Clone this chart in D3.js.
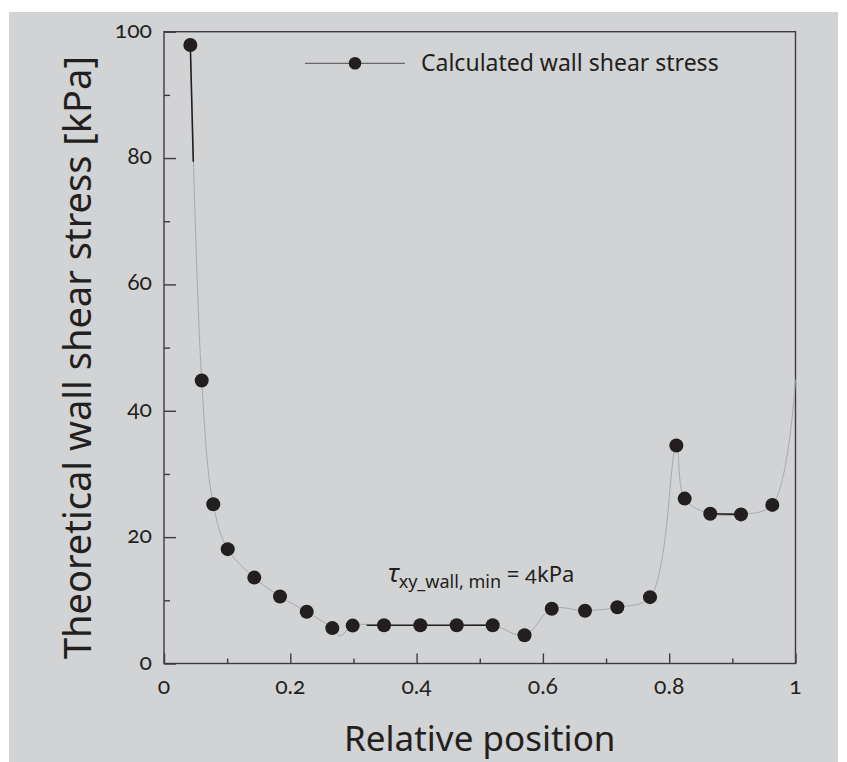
<!DOCTYPE html>
<html>
<head>
<meta charset="utf-8">
<script src="https://cdn.jsdelivr.net/npm/d3@7"></script>
<style>
	body { margin: 0; background: #fff; }
	text { font-family: "Noto Sans", sans-serif; fill: #231f20; }
	.num { font-family: Lato, "Noto Sans", sans-serif; font-variant-numeric: oldstyle-nums; font-feature-settings: "onum" 1; }
</style>
</head>
<body>
<svg width="847" height="762"></svg>
<script>
// Calculated points (markers)
var posX = [0.0417, 0.0597, 0.078, 0.1009, 0.143, 0.1837, 0.226, 0.2665, 0.2988, 0.3484,
	0.4059, 0.4635, 0.5205, 0.5709, 0.614, 0.6667, 0.7179, 0.7696, 0.8113, 0.8245,
	0.865, 0.9137, 0.9633];
var stress = [97.9, 44.8, 25.2, 18.1, 13.6, 10.6, 8.2, 5.6, 6.0, 6.05,
	6.05, 6.05, 6.05, 4.46, 8.67, 8.36, 8.9, 10.5, 34.5, 26.1,
	23.7, 23.6, 25.1];

// Thin grey fitted curve
var curveX = [0.0417, 0.0597, 0.078, 0.1009, 0.143, 0.1837, 0.226, 0.2665, 0.279, 0.2988,
	0.3484, 0.4059, 0.4635, 0.5205, 0.5709, 0.614, 0.6667, 0.7179, 0.7696, 0.8113,
	0.8245, 0.865, 0.9137, 0.9633, 1.0];
var curveY = [97.9, 44.8, 25.2, 18.1, 13.6, 10.6, 8.2, 5.6, 4.4, 6.0,
	6.05, 6.05, 6.05, 6.05, 4.46, 8.67, 8.36, 8.9, 10.5, 34.5,
	26.1, 23.7, 23.6, 25.1, 45];

// Dark straight pieces of the line
var segX0 = [0.0417, 0.321, 0.865];
var segY0 = [97.9, 6.05, 23.7];
var segX1 = [0.0464, 0.5205, 0.9137];
var segY1 = [79.4, 6.05, 23.6];

// Ticks
var xMajor = [0, 0.2, 0.4, 0.6, 0.8, 1];
var xMinor = [0.1, 0.3, 0.5, 0.7, 0.9];
var xLabels = ["0", "0.2", "0.4", "0.6", "0.8", "1"];
var yMajor = [0, 20, 40, 60, 80, 100];
var yMinor = [10, 30, 50, 70, 90];

// The svg
var svg = d3.select("svg"),
	width = +svg.attr("width"),
	height = +svg.attr("height");

var margin = { left: 164, right: 795.5, top: 31.7, bottom: 663.5 };
var ink = "#231f20";

// grey panel
svg.append("rect")
	.attr("x", 9).attr("y", 12)
	.attr("width", 829).attr("height", 750)
	.attr("fill", "#d1d3d4");

var x = d3.scaleLinear().domain([0, 1]).range([margin.left, margin.right]);
var y = d3.scaleLinear().domain([0, 100]).range([margin.bottom, margin.top]);

// frame
svg.append("rect")
	.attr("x", x(0)).attr("y", y(100))
	.attr("width", x(1) - x(0)).attr("height", y(0) - y(100))
	.attr("fill", "none")
	.attr("stroke", "#3c3c3e")
	.attr("stroke-width", 1.4);

// x axis (ticks pointing inward)
var xAxis = svg.append("g").attr("transform", "translate(0," + y(0) + ")");
xAxis.call(d3.axisTop(x).tickValues(xMajor).tickSize(10).tickFormat(""))
	.call(g => g.select(".domain").remove());
xAxis.append("g").call(d3.axisTop(x).tickValues(xMinor).tickSize(5).tickFormat(""))
	.call(g => g.select(".domain").remove());
xAxis.selectAll("line").attr("stroke", "#3c3c3e").attr("stroke-width", 1.4);
xAxis.selectAll(".lbl")
	.data(xMajor)
	.enter()
	.append("text")
	.attr("class", "num")
	.attr("x", d => x(d))
	.attr("y", 30)
	.attr("text-anchor", "middle")
	.style("font-size", "23px")
	.text((d, i) => xLabels[i]);

// y axis
var yAxis = svg.append("g").attr("transform", "translate(" + x(0) + ",0)");
yAxis.call(d3.axisRight(y).tickValues(yMajor).tickSize(12).tickFormat(""))
	.call(g => g.select(".domain").remove());
yAxis.append("g").call(d3.axisRight(y).tickValues(yMinor).tickSize(6).tickFormat(""))
	.call(g => g.select(".domain").remove());
yAxis.selectAll("line").attr("stroke", "#3c3c3e").attr("stroke-width", 1.4);
yAxis.selectAll(".lbl")
	.data(yMajor)
	.enter()
	.append("text")
	.attr("class", "num")
	.attr("x", -12)
	.attr("y", d => y(d) + 6)
	.attr("text-anchor", "end")
	.style("font-size", "23px")
	.text(d => d);

// axis titles
svg.append("text")
	.attr("x", (x(0) + x(1)) / 2)
	.attr("y", 751)
	.attr("text-anchor", "middle")
	.style("font-size", "35px")
	.text("Relative position");

svg.append("text")
	.attr("transform", "translate(91," + (y(50) + 10) + ") rotate(-90)")
	.attr("text-anchor", "middle")
	.style("font-size", "38px")
	.text("Theoretical wall shear stress [kPa]");

// grey curve
var curvePts = curveX.map((d, i) => [d, curveY[i]]);
svg.append("path")
	.datum(curvePts)
	.attr("d", d3.line().x(d => x(d[0])).y(d => y(d[1])).curve(d3.curveCatmullRom.alpha(0.5)))
	.attr("fill", "none")
	.attr("stroke", "#a7a9ac")
	.attr("stroke-width", 1);

// dark pieces
svg.append("g")
	.selectAll("line")
	.data(segX0)
	.enter()
	.append("line")
	.attr("x1", (d, i) => x(segX0[i]))
	.attr("y1", (d, i) => y(segY0[i]))
	.attr("x2", (d, i) => x(segX1[i]))
	.attr("y2", (d, i) => y(segY1[i]))
	.attr("stroke", ink)
	.attr("stroke-width", 1.6);

// markers
svg.append("g")
	.selectAll("circle")
	.data(posX)
	.enter()
	.append("circle")
	.attr("cx", d => x(d))
	.attr("cy", (d, i) => y(stress[i]))
	.attr("r", 7)
	.attr("fill", ink);

// legend
var legend = svg.append("g");
legend.append("line")
	.attr("x1", 305).attr("x2", 405)
	.attr("y1", 63.3).attr("y2", 63.3)
	.attr("stroke", "#4d4d4f")
	.attr("stroke-width", 1);
legend.append("circle")
	.attr("cx", 355).attr("cy", 63.3).attr("r", 6.3)
	.attr("fill", ink);
legend.append("text")
	.attr("x", 421).attr("y", 71)
	.style("font-size", "23px")
	.text("Calculated wall shear stress");

// annotation for the minimum
var note = svg.append("text")
	.attr("x", 388).attr("y", 582)
	.style("font-size", "22px");
note.append("tspan")
	.style("font-style", "italic")
	.style("font-size", "26px")
	.text("τ");
note.append("tspan")
	.attr("dy", 6)
	.style("font-size", "18px")
	.text("xy_wall, min");
note.append("tspan")
	.attr("dy", -6)
	.text(" = ");
note.append("tspan")
	.attr("class", "num")
	.text("4");
note.append("tspan")
	.text("kPa");
</script>
</body>
</html>
